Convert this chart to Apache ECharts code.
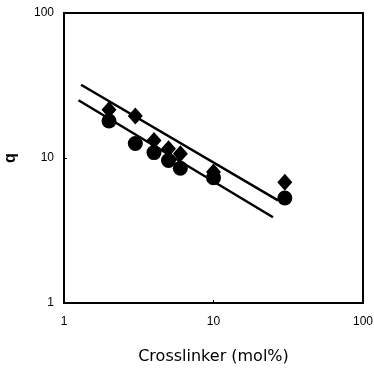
<!DOCTYPE html>
<html>
<head>
<meta charset="utf-8">
<script src="https://cdn.jsdelivr.net/npm/echarts@6/dist/echarts.min.js"></script>
<style>
  html, body { margin: 0; padding: 0; background: #fff; }
  #chart { width: 374px; height: 372px; }
</style>
</head>
<body>
<div id="chart"></div>
<script>
const crosslinker = [2, 3, 4, 5, 6, 10, 30]
const qDiamond = [21.5, 19.5, 13.2, 11.6, 10.7, 8.0, 6.8]
const qCircle = [18, 12.6, 10.9, 9.6, 8.5, 7.3, 5.3]
// fitted lines, end points
const fitUpper = [[1.3, 32], [27, 5.1]]
const fitLower = [[1.25, 25], [25, 3.9]]

const chart = echarts.init(document.getElementById('chart'), null, { renderer: 'canvas' })

const font = 'Liberation Sans, Arial, sans-serif'

const option = {
  backgroundColor: '#fff',
  animation: false,
  grid: {
    left: 64,
    right: 11,
    top: 13,
    bottom: 69,
    outerBoundsMode: 'none',
    containLabel: false,
    show: true,
    borderColor: '#000',
    borderWidth: 2
  },
  xAxis: {
    type: 'log',
    logBase: 10,
    min: 1,
    max: 100,
    name: 'Crosslinker (mol%)',
    nameLocation: 'middle',
    nameGap: 46,
    nameTextStyle: { color: '#000', fontSize: 16, fontFamily: 'DejaVu Sans' },
    axisLine: { show: true, onZero: false, lineStyle: { color: '#000', width: 2 } },
    axisTick: { show: true, inside: true, length: 3, lineStyle: { color: '#000' } },
    minorTick: { show: false },
    splitLine: { show: false },
    axisLabel: { color: '#000', fontSize: 12, fontFamily: font, margin: 13 }
  },
  yAxis: {
    type: 'log',
    logBase: 10,
    min: 1,
    max: 100,
    name: 'q',
    nameLocation: 'middle',
    nameRotate: 90,
    nameGap: 45,
    nameTextStyle: { color: '#000', fontSize: 16, fontWeight: 'bold', fontFamily: font },
    axisLine: { show: true, onZero: false, lineStyle: { color: '#000', width: 2 } },
    axisTick: { show: true, inside: true, length: 3, lineStyle: { color: '#000' } },
    splitLine: { show: false },
    axisLabel: { color: '#000', fontSize: 12, fontFamily: font, margin: 10 }
  },
  series: [{
    name: 'fit upper',
    type: 'line',
    data: fitUpper,
    symbol: 'none',
    lineStyle: { color: '#000', width: 2.5 },
    z: 2
  }, {
    name: 'fit lower',
    type: 'line',
    data: fitLower,
    symbol: 'none',
    lineStyle: { color: '#000', width: 2.5 },
    z: 2
  }, {
    name: 'diamond',
    type: 'scatter',
    data: crosslinker.map((x, i) => [x, qDiamond[i]]),
    symbol: 'diamond',
    symbolSize: [15, 17],
    itemStyle: { color: '#000', opacity: 1 },
    z: 3
  }, {
    name: 'circle',
    type: 'scatter',
    data: crosslinker.map((x, i) => [x, qCircle[i]]),
    symbol: 'circle',
    symbolSize: 15,
    itemStyle: { color: '#000', opacity: 1 },
    z: 3
  }]
}

chart.setOption(option)
</script>
</body>
</html>
